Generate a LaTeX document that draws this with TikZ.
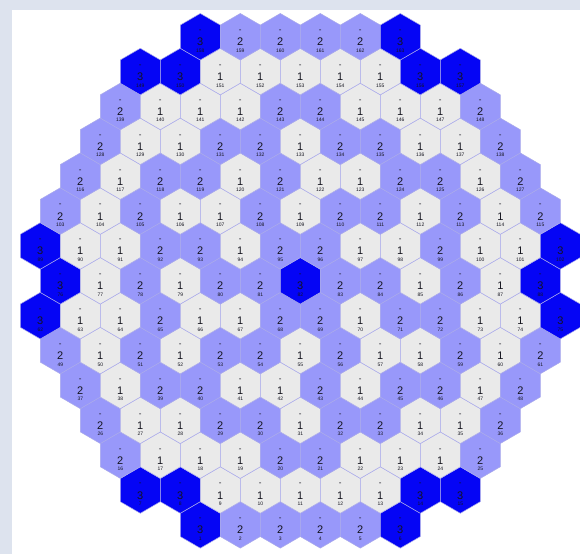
\documentclass[tikz,border=0pt]{standalone}
\usepackage{fontspec}
\setmainfont{Liberation Sans}
\definecolor{bgframe}{RGB}{221,227,238}
\definecolor{fillthree}{RGB}{5,5,245}
\definecolor{filltwo}{RGB}{152,152,250}
\definecolor{fillone}{RGB}{234,234,234}
\definecolor{hexedge}{RGB}{170,170,235}
\definecolor{txtcol}{RGB}{20,20,30}
\tikzset{
  hexbase/.style={draw=hexedge, line width=0.5pt},
  hex1/.style={hexbase, fill=fillone},
  hex2/.style={hexbase, fill=filltwo},
  hex3/.style={hexbase, fill=fillthree},
  dashtxt/.style={inner sep=0pt, text=txtcol, font=\fontsize{8}{8}\selectfont},
  digtxt/.style={inner sep=0pt, text=txtcol, font=\fontsize{11}{11}\selectfont},
  numtxt/.style={inner sep=0pt, text=txtcol, font=\fontsize{5}{5}\selectfont}
}
\newcommand\hexrow[4]{%
  \foreach \t [count=\k from 0] in {#4}{%
    \pgfmathsetmacro\cx{300.3+(\k-(#3-1)/2)*40}%
    \pgfmathsetmacro\cy{280.8+(8-#1)*34.87}%
    \pgfmathtruncatemacro\idx{#2+\k}%
    \coordinate (c\idx) at (\cx,\cy);
    \filldraw[hex\t] (c\idx) ++(0,-23.25) -- ++(20,11.625) -- ++(0,23.25) -- ++(-20,11.625) -- ++(-20,-11.625) -- ++(0,-23.25) -- cycle;
    \node[dashtxt] (d\idx) at (\cx,\cy-5.3) {-};
    \node[digtxt] (v\idx) at (\cx,\cy+5.2) {\t};
    \node[numtxt] (n\idx) at (\cx,\cy+13.8) {\idx};
  }%
}
\begin{document}
\begin{tikzpicture}[x=1pt,y=-1pt]
\useasboundingbox (0,0) rectangle (580,554);
\fill[white] (0,0) rectangle (580,554);
\fill[bgframe] (0,0) rectangle (580,9.5);
\fill[bgframe] (0,0) rectangle (12.3,554);
\hexrow{1}{1}{6}{3,2,2,2,2,3}
\hexrow{2}{7}{9}{3,3,1,1,1,1,1,3,3}
\hexrow{3}{16}{10}{2,1,1,1,2,2,1,1,1,2}
\hexrow{4}{26}{11}{2,1,1,2,2,1,2,2,1,1,2}
\hexrow{5}{37}{12}{2,1,2,2,1,1,2,1,2,2,1,2}
\hexrow{6}{49}{13}{2,1,2,1,2,2,1,2,1,1,2,1,2}
\hexrow{7}{62}{14}{3,1,1,2,1,1,2,2,1,2,2,1,1,3}
\hexrow{8}{76}{13}{3,1,2,1,2,2,3,2,2,1,2,1,3}
\hexrow{9}{89}{14}{3,1,1,2,2,1,2,2,1,1,2,1,1,3}
\hexrow{10}{103}{13}{2,1,2,1,1,2,1,2,2,1,2,1,2}
\hexrow{11}{116}{12}{2,1,2,2,1,2,1,1,2,2,1,2}
\hexrow{12}{128}{11}{2,1,1,2,2,1,2,2,1,1,2}
\hexrow{13}{139}{10}{2,1,1,1,2,2,1,1,1,2}
\hexrow{14}{149}{9}{3,3,1,1,1,1,1,3,3}
\hexrow{15}{158}{6}{3,2,2,2,2,3}
\end{tikzpicture}
\end{document}
